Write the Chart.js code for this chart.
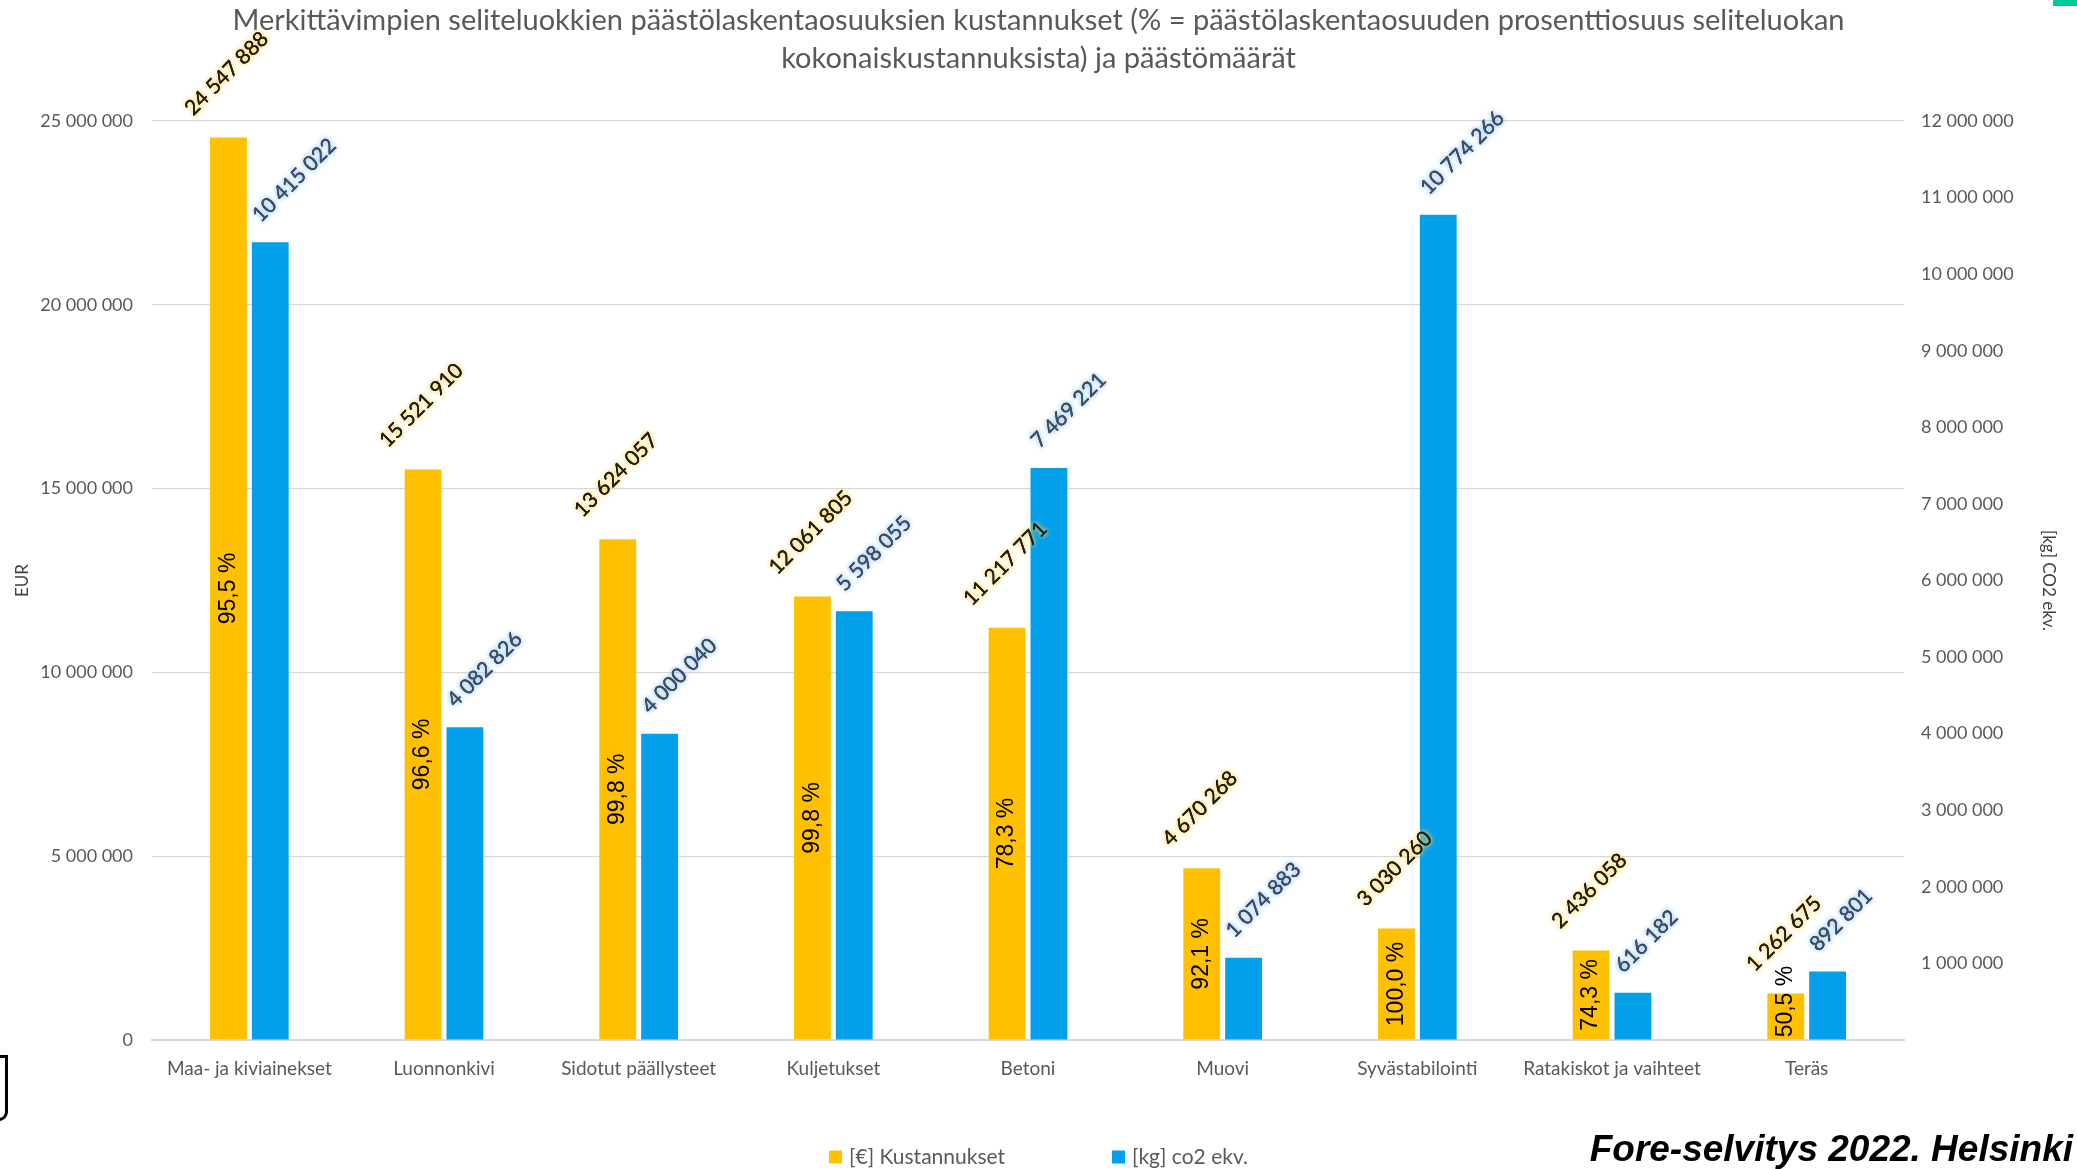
<!DOCTYPE html>
<html lang="fi">
<head>
<meta charset="utf-8">
<title>Päästölaskentaosuuksien kustannukset</title>
<script src="https://cdn.jsdelivr.net/npm/chart.js@4"></script>
<style>
    html, body { margin: 0; padding: 0; background: #fff; }
    #kehys { position: relative; width: 2077px; height: 1169px; overflow: hidden; }
    #kaavio { position: absolute; left: 0; top: 0; }
    .lahde {
        position: absolute; right: 4px; top: 1128px;
        font: italic bold 37px "Liberation Sans", Arial, sans-serif;
        color: #000; white-space: nowrap;
    }
    .vihrea { position: absolute; right: 0; top: 0; width: 24px; height: 6px; background: #00CC99; }
    .sulje {
        position: absolute; left: -22px; top: 1055px; width: 24px; height: 60px;
        border: 3px solid #000; border-radius: 0 0 9px 0;
    }
</style>
</head>
<body>
<div id="kehys">
    <canvas id="kaavio" width="2077" height="1169"></canvas>
    <div class="vihrea"></div>
    <div class="sulje"></div>
    <div class="lahde">Fore-selvitys 2022. Helsinki</div>
</div>
<script>

// DATA
const kategoriat = [
    'Maa- ja kiviainekset',
    'Luonnonkivi',
    'Sidotut päällysteet',
    'Kuljetukset',
    'Betoni',
    'Muovi',
    'Syvästabilointi',
    'Ratakiskot ja vaihteet',
    'Teräs'
];

const kustannukset = [
    24547888, 15521910, 13624057, 12061805, 11217771,
    4670268, 3030260, 2436058, 1262675
];

const paastot = [
    10415022, 4082826, 4000040, 5598055, 7469221,
    1074883, 10774266, 616182, 892801
];

const osuudet = [
    '95,5 %', '96,6 %', '99,8 %', '99,8 %', '78,3 %',
    '92,1 %', '100,0 %', '74,3 %', '50,5 %'
];

const eurMax = 25000000;
const eurAskel = 5000000;
const co2Max = 12000000;
const co2Askel = 1000000;

const otsikko = [
    'Merkittävimpien seliteluokkien päästölaskentaosuuksien kustannukset (% = päästölaskentaosuuden prosenttiosuus seliteluokan',
    'kokonaiskustannuksista) ja päästömäärät'
];

const KELTAINEN = '#FFC000';
const SININEN = '#02A0EA';
const HARMAA = '#595959';

function muotoile(n) {
    return String(n).replace(/\B(?=(\d{3})+(?!\d))/g, ' ');
}

Chart.defaults.font.family = 'Lato, "Open Sans", sans-serif';
Chart.defaults.color = HARMAA;

function hehkuTeksti(ctx, teksti, hehku, vari) {
    ctx.shadowColor = hehku;
    ctx.shadowBlur = 5;
    ctx.fillStyle = vari;
    ctx.fillText(teksti, 0, 0);
    ctx.fillText(teksti, 0, 0);
    ctx.shadowBlur = 0;
    ctx.shadowColor = 'transparent';
    ctx.fillText(teksti, 0, 0);
}

// arvot ja prosentit palkkien päälle
const etiketit = {
    id: 'etiketit',
    afterDatasetsDraw(chart) {

        const ctx = chart.ctx;
        const keltaiset = chart.getDatasetMeta(0).data;
        const siniset = chart.getDatasetMeta(1).data;
        const k = Math.SQRT1_2;

        ctx.save();
        ctx.font = '21px Lato, sans-serif';
        ctx.textAlign = 'left';
        ctx.textBaseline = 'alphabetic';

        keltaiset.forEach((palkki, i) => {
            const teksti = muotoile(kustannukset[i]);
            const w = ctx.measureText(teksti).width;
            ctx.save();
            ctx.translate(palkki.x - w * k / 2 + 3, palkki.y - 21);
            ctx.rotate(-Math.PI / 4);
            hehkuTeksti(ctx, teksti, '#FFD54F', '#1E1E1E');
            ctx.restore();
        });

        siniset.forEach((palkki, i) => {
            const teksti = muotoile(paastot[i]);
            ctx.save();
            ctx.translate(palkki.x - palkki.width / 2 + 9, palkki.y - 19);
            ctx.rotate(-Math.PI / 4);
            hehkuTeksti(ctx, teksti, '#8EC3F0', '#3E4C5E');
            ctx.restore();
        });

        // prosentit pystyyn keltaisen palkin sisään
        ctx.font = '23px "Liberation Sans", Arial, sans-serif';
        ctx.fillStyle = '#000';
        keltaiset.forEach((palkki, i) => {
            const teksti = osuudet[i];
            const w = ctx.measureText(teksti).width;
            const korkeus = palkki.base - palkki.y;
            ctx.save();
            ctx.textBaseline = 'middle';
            if (w + 6 < korkeus) {
                ctx.translate(palkki.x, (palkki.y + palkki.base) / 2);
                ctx.textAlign = 'center';
            } else {
                ctx.translate(palkki.x, palkki.base - 2);
                ctx.textAlign = 'left';
            }
            ctx.rotate(-Math.PI / 2);
            ctx.fillText(teksti, 0, 0);
            ctx.restore();
        });

        ctx.restore();
    }
};

// selite alas keskelle
const selite = {
    id: 'selite',
    afterDraw(chart) {

        const ctx = chart.ctx;
        const y = 1157;
        const laatikko = 13;
        const askel = 283;

        ctx.save();
        ctx.font = '21px Lato, sans-serif';
        ctx.textBaseline = 'middle';
        ctx.textAlign = 'left';

        const viimeinen = chart.data.datasets[chart.data.datasets.length - 1];
        const yhteensa = askel * (chart.data.datasets.length - 1) +
            laatikko + 7 + ctx.measureText(viimeinen.label).width;
        let x = chart.width / 2 - yhteensa / 2;

        chart.data.datasets.forEach(ds => {
            ctx.fillStyle = ds.backgroundColor;
            ctx.fillRect(x, y - laatikko / 2, laatikko, laatikko);
            ctx.fillStyle = HARMAA;
            ctx.fillText(ds.label, x + laatikko + 7, y);
            x += askel;
        });

        ctx.restore();
    }
};

new Chart(

    document.getElementById('kaavio'),

    {
        type: 'bar',

        data: {
            labels: kategoriat,
            datasets: [
                {
                    label: '[€] Kustannukset',
                    data: kustannukset,
                    backgroundColor: KELTAINEN,
                    yAxisID: 'eur',
                    categoryPercentage: 0.43,
                    barPercentage: 0.88
                },
                {
                    label: '[kg] co2 ekv.',
                    data: paastot,
                    backgroundColor: SININEN,
                    yAxisID: 'co2',
                    categoryPercentage: 0.43,
                    barPercentage: 0.88
                }
            ]
        },

        options: {
            responsive: false,
            animation: false,
            devicePixelRatio: 1,

            layout: {
                padding: { left: 0, right: 0, top: 0, bottom: 79 }
            },

            plugins: {
                legend: { display: false },
                tooltip: { enabled: false },
                title: {
                    display: true,
                    text: otsikko,
                    color: HARMAA,
                    font: { size: 29, weight: 'normal', lineHeight: 1.31 },
                    padding: { top: 2, bottom: 43 }
                }
            },

            scales: {
                x: {
                    grid: { display: false },
                    border: { color: '#D9D9D9', width: 2 },
                    ticks: {
                        color: HARMAA,
                        font: { size: 19 },
                        padding: 9,
                        maxRotation: 0,
                        autoSkip: false
                    },
                    afterFit: s => { s.height = 50; }
                },

                eur: {
                    position: 'left',
                    min: 0,
                    max: eurMax,
                    grid: {
                        color: '#D9D9D9',
                        lineWidth: 1.3,
                        drawTicks: false
                    },
                    border: { display: false },
                    ticks: {
                        stepSize: eurAskel,
                        color: HARMAA,
                        font: { size: 18 },
                        padding: 19,
                        callback: v => muotoile(v)
                    },
                    title: {
                        display: true,
                        text: 'EUR',
                        color: '#404040',
                        font: { size: 17 },
                        padding: { top: 12, bottom: 0 }
                    },
                    afterFit: s => { s.width = 152; }
                },

                co2: {
                    position: 'right',
                    min: 0,
                    max: co2Max,
                    grid: {
                        drawOnChartArea: false,
                        drawTicks: false
                    },
                    border: { display: false },
                    ticks: {
                        stepSize: co2Askel,
                        color: HARMAA,
                        font: { size: 18 },
                        padding: 17,
                        callback: v => (v === 0 ? '' : muotoile(v))
                    },
                    title: {
                        display: true,
                        text: '[kg] CO2 ekv.',
                        color: '#404040',
                        font: { size: 17 },
                        padding: { top: 18, bottom: 0 }
                    },
                    afterFit: s => { s.width = 173; }
                }
            }
        },

        plugins: [etiketit, selite]
    }
);

</script>
</body>
</html>
